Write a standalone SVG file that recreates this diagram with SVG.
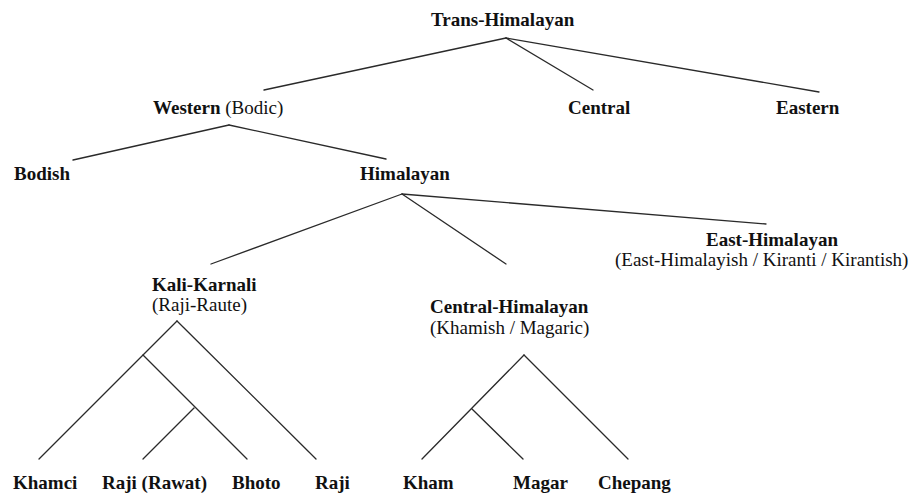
<svg xmlns="http://www.w3.org/2000/svg" width="913" height="495" viewBox="0 0 913 495">
<style>
text { font-family: "Liberation Serif", "Times New Roman", serif; font-size: 19px; fill: #111; }
.b { font-weight: bold; }
.r { font-weight: normal; }
.edge { stroke: #2a2a2a; stroke-width: 1.3; fill: none; stroke-linecap: round; }
</style>
<rect width="913" height="495" fill="#fff"/>
<g id="connectors">
  <line class="edge" x1="506" y1="38" x2="264" y2="90"/>
  <line class="edge" x1="506" y1="38" x2="593" y2="90"/>
  <line class="edge" x1="506" y1="38" x2="819" y2="92"/>
  <line class="edge" x1="229" y1="125" x2="73" y2="160"/>
  <line class="edge" x1="229" y1="125" x2="386" y2="159"/>
  <line class="edge" x1="402" y1="194" x2="211" y2="264"/>
  <line class="edge" x1="402" y1="194" x2="506" y2="264"/>
  <line class="edge" x1="402" y1="194" x2="766" y2="224"/>
  <line class="edge" x1="177" y1="321" x2="39" y2="459"/>
  <line class="edge" x1="177" y1="321" x2="316" y2="459"/>
  <line class="edge" x1="143" y1="355" x2="247" y2="459"/>
  <line class="edge" x1="194" y1="408" x2="143" y2="459"/>
  <line class="edge" x1="524" y1="355" x2="422" y2="459"/>
  <line class="edge" x1="524" y1="355" x2="628" y2="459"/>
  <line class="edge" x1="472" y1="409" x2="523" y2="459"/>
</g>
<g id="trans-himalayan"><text class="b" x="431" y="26">Trans-Himalayan</text></g>
<g id="western"><text x="153" y="114"><tspan class="b">Western </tspan><tspan class="r">(Bodic)</tspan></text></g>
<g id="central"><text class="b" x="568" y="114">Central</text></g>
<g id="eastern"><text class="b" x="776" y="114">Eastern</text></g>
<g id="bodish"><text class="b" x="14" y="180">Bodish</text></g>
<g id="himalayan"><text class="b" x="360" y="180">Himalayan</text></g>
<g id="east-himalayan">
  <text class="b" x="706" y="246">East-Himalayan</text>
  <text class="r" x="615" y="266">(East-Himalayish / Kiranti / Kirantish)</text>
</g>
<g id="kali-karnali">
  <text class="b" x="152" y="291">Kali-Karnali</text>
  <text class="r" x="152" y="311">(Raji-Raute)</text>
</g>
<g id="central-himalayan">
  <text class="b" x="430" y="313">Central-Himalayan</text>
  <text class="r" x="430" y="334">(Khamish / Magaric)</text>
</g>
<g id="khamci"><text class="b" x="13" y="489">Khamci</text></g>
<g id="raji-rawat"><text class="b" x="102" y="489">Raji (Rawat)</text></g>
<g id="bhoto"><text class="b" x="232" y="489">Bhoto</text></g>
<g id="raji"><text class="b" x="315" y="489">Raji</text></g>
<g id="kham"><text class="b" x="403" y="489">Kham</text></g>
<g id="magar"><text class="b" x="513" y="489">Magar</text></g>
<g id="chepang"><text class="b" x="598" y="489">Chepang</text></g>
</svg>
